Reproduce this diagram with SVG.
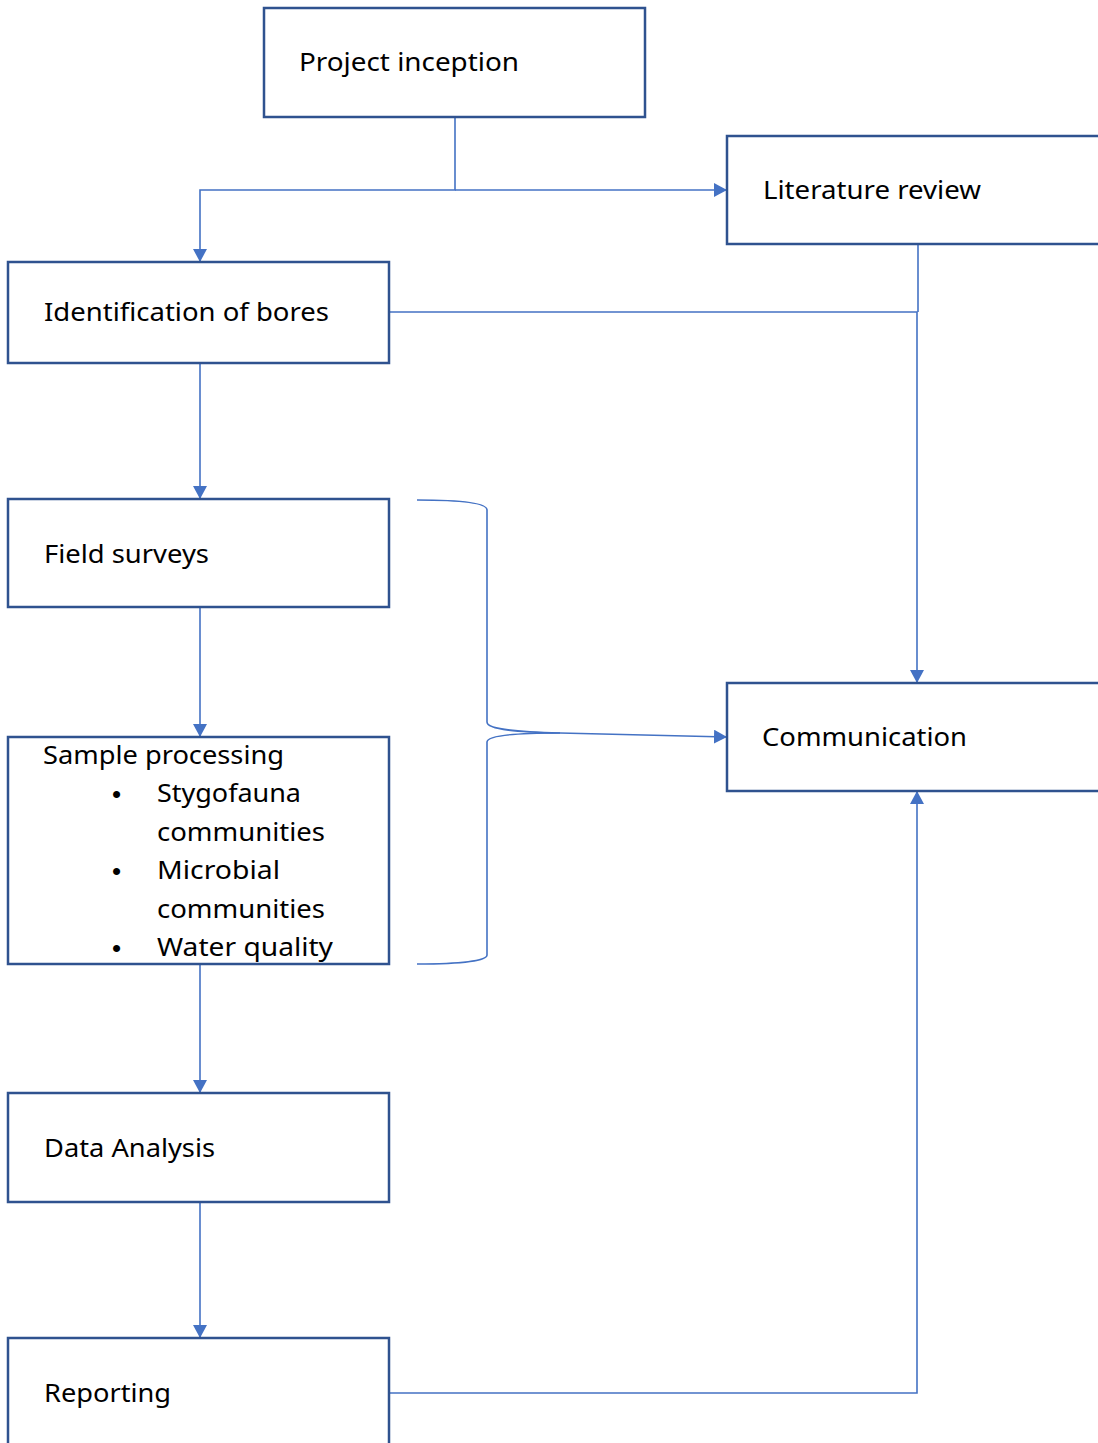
<svg xmlns="http://www.w3.org/2000/svg" width="1098" height="1443" viewBox="0 0 1098 1443">
<style>
.box{fill:#fff;stroke:#2F528F;stroke-width:2.5}
.lbl{font-family:"Noto Sans","Open Sans","Liberation Sans",sans-serif;font-size:25px;fill:#000}
.bul{font-family:"Liberation Sans",sans-serif;font-size:26px;fill:#000}
.con{fill:none;stroke:#4472C4;stroke-width:1.6}
</style>
<defs>
<marker id="ah" viewBox="0 0 13 14" refX="13" refY="7" markerWidth="13" markerHeight="14" markerUnits="userSpaceOnUse" orient="auto">
<path d="M0,0 L13,7 L0,14 Z" fill="#4472C4"/>
</marker>
</defs>
<rect width="1098" height="1443" fill="#fff"/>
<g id="connectors">
<path class="con" d="M455,117 V190 H200 V262" marker-end="url(#ah)"/>
<path class="con" d="M455,190 H727" marker-end="url(#ah)"/>
<path class="con" d="M918,244 V312"/>
<path class="con" d="M389,312 H917 V683" marker-end="url(#ah)"/>
<path class="con" d="M200,363 V499" marker-end="url(#ah)"/>
<path class="con" d="M200,607 V737" marker-end="url(#ah)"/>
<path class="con" d="M200,964 V1093" marker-end="url(#ah)"/>
<path class="con" d="M200,1202 V1338" marker-end="url(#ah)"/>
<path class="con" d="M389,1393 H917 V791" marker-end="url(#ah)"/>
<path class="con" d="M417,500 C460,500 487,503 487,510 L487,722 C487,730 520,732 560,733 L727,737" marker-end="url(#ah)"/>
<path class="con" d="M560,733 C520,733 487,735 487,742 L487,955 C487,961 460,964 417,964"/>
</g>
<g id="project-inception">
<rect class="box" x="264" y="8" width="381" height="109"/>
<text class="lbl" x="299" y="71" textLength="220" lengthAdjust="spacingAndGlyphs">Project inception</text>
</g>
<g id="literature-review">
<rect class="box" x="727" y="136" width="400" height="108"/>
<text class="lbl" x="763" y="199" textLength="218" lengthAdjust="spacingAndGlyphs">Literature review</text>
</g>
<g id="identification-of-bores">
<rect class="box" x="8" y="262" width="381" height="101"/>
<text class="lbl" x="44" y="321" textLength="285" lengthAdjust="spacingAndGlyphs">Identification of bores</text>
</g>
<g id="field-surveys">
<rect class="box" x="8" y="499" width="381" height="108"/>
<text class="lbl" x="44" y="563" textLength="165" lengthAdjust="spacingAndGlyphs">Field surveys</text>
</g>
<g id="communication">
<rect class="box" x="727" y="683" width="400" height="108"/>
<text class="lbl" x="762" y="746" textLength="205" lengthAdjust="spacingAndGlyphs">Communication</text>
</g>
<g id="sample-processing">
<rect class="box" x="8" y="737" width="381" height="227"/>
<text class="lbl" x="43" y="764" textLength="241" lengthAdjust="spacingAndGlyphs">Sample processing</text>
<text class="bul" x="112" y="803">•</text>
<text class="lbl" x="157" y="802" textLength="144" lengthAdjust="spacingAndGlyphs">Stygofauna</text>
<text class="lbl" x="157" y="841" textLength="168" lengthAdjust="spacingAndGlyphs">communities</text>
<text class="bul" x="112" y="880">•</text>
<text class="lbl" x="157" y="879" textLength="123" lengthAdjust="spacingAndGlyphs">Microbial</text>
<text class="lbl" x="157" y="918" textLength="168" lengthAdjust="spacingAndGlyphs">communities</text>
<text class="bul" x="112" y="957">•</text>
<text class="lbl" x="157" y="956" textLength="176" lengthAdjust="spacingAndGlyphs">Water quality</text>
</g>
<g id="data-analysis">
<rect class="box" x="8" y="1093" width="381" height="109"/>
<text class="lbl" x="44" y="1157" textLength="171" lengthAdjust="spacingAndGlyphs">Data Analysis</text>
</g>
<g id="reporting">
<rect class="box" x="8" y="1338" width="381" height="120"/>
<text class="lbl" x="44" y="1402" textLength="127" lengthAdjust="spacingAndGlyphs">Reporting</text>
</g>
</svg>
